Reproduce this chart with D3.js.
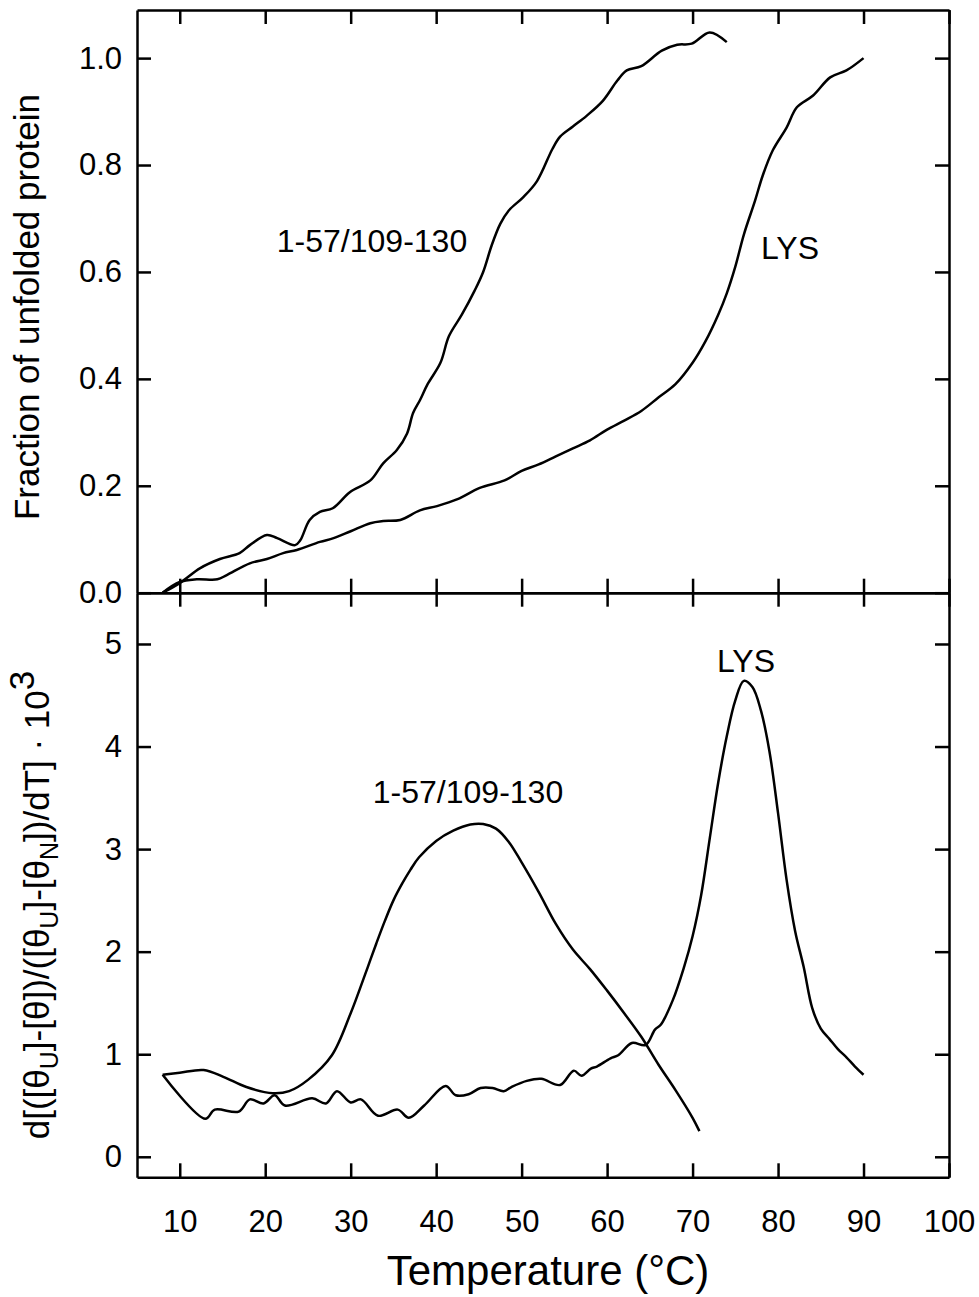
<!DOCTYPE html>
<html>
<head>
<meta charset="utf-8">
<script src="https://cdn.jsdelivr.net/npm/d3@7"></script>
<style>
  body { margin: 0; background: #fff; }
  text { font-family: "Liberation Sans", Arial, sans-serif; fill: #000; }
</style>
</head>
<body>
<svg id="chart" width="979" height="1297"></svg>
<script>
// x ticks shared by both panels
const tempTicks = [10, 20, 30, 40, 50, 60, 70, 80, 90, 100];
const fracTicks = [0, 0.2, 0.4, 0.6, 0.8, 1.0];
const derivTicks = [0, 1, 2, 3, 4, 5];

// top panel: fraction unfolded
const fragTempTop = [8, 10, 12.4, 14.7, 17, 18.2, 20.2, 21.4, 23.5, 24.1, 25.2, 26.4, 27.9, 29.9, 32.3, 33.8, 35.4, 36.6, 37.3, 38.1, 39, 40.5, 41.5, 43, 44.5, 45.5, 46.5, 47.5, 48.5, 50.2, 51.8, 53.6, 54.5, 56, 57.6, 59.5, 61.2, 62.3, 64, 66.4, 68.2, 69.9, 72, 74];
const fragFrac = [0, 0.018, 0.046, 0.063, 0.074, 0.089, 0.108, 0.102, 0.089, 0.098, 0.136, 0.151, 0.158, 0.188, 0.21, 0.242, 0.267, 0.298, 0.336, 0.36, 0.39, 0.43, 0.48, 0.52, 0.565, 0.6, 0.65, 0.69, 0.715, 0.74, 0.77, 0.83, 0.853, 0.872, 0.892, 0.92, 0.958, 0.977, 0.985, 1.014, 1.025, 1.027, 1.048, 1.03];

const lysTempTop = [8, 10, 12, 14.4, 15.5, 18.2, 20.2, 22.1, 23.7, 26.4, 28, 30, 32.3, 33.8, 35.8, 38.1, 40.1, 42.5, 45.1, 48, 50, 52, 54, 56, 58, 60, 62, 64, 66, 68, 70, 71.5, 73, 74, 75, 76, 77.3, 78.2, 79.4, 81, 82.2, 84.1, 86.1, 88, 90];
const lysFrac = [0, 0.02, 0.025, 0.025, 0.033, 0.055, 0.063, 0.074, 0.08, 0.095, 0.102, 0.115, 0.13, 0.134, 0.136, 0.154, 0.162, 0.175, 0.196, 0.21, 0.228, 0.24, 0.255, 0.27, 0.285, 0.305, 0.322, 0.34, 0.365, 0.39, 0.43, 0.47, 0.52, 0.56, 0.61, 0.67, 0.733, 0.78, 0.828, 0.87, 0.908, 0.93, 0.964, 0.977, 1.0];

// bottom panel: derivative x 10^3
const fragTempBot = [8, 10, 12.8, 15.1, 17.8, 20.9, 22.8, 25, 27.8, 30, 31, 32, 33, 34, 35, 36, 37, 38, 40, 42, 44, 45.5, 47, 48.5, 50, 52, 54, 56, 58, 60, 62, 64, 66, 68, 70, 70.8];
const fragDeriv = [0.8, 0.82, 0.846, 0.78, 0.68, 0.62, 0.64, 0.75, 0.99, 1.4, 1.62, 1.85, 2.08, 2.3, 2.5, 2.66, 2.8, 2.92, 3.08, 3.18, 3.24, 3.245, 3.2, 3.07, 2.87, 2.58, 2.27, 2.02, 1.83, 1.62, 1.4, 1.17, 0.9, 0.65, 0.38, 0.25];

const lysTempBot = [8, 13, 14.1, 16.9, 18.2, 19.8, 21.1, 22.3, 25.5, 27.1, 28.4, 30, 31.2, 33.2, 35.5, 36.8, 38.6, 41.1, 42.3, 43.8, 45.2, 46.6, 47.9, 48.8, 50.6, 52.3, 54.5, 56.1, 57, 58.1, 58.8, 60.4, 61.3, 62.9, 64.5, 65.6, 66.3, 67.7, 69, 70, 71, 72, 73, 74, 75, 76, 77, 78, 79, 80, 81, 82, 83, 84, 85, 86, 87, 88, 89, 90];
const lysDeriv = [0.8, 0.37, 0.46, 0.44, 0.56, 0.52, 0.6, 0.5, 0.57, 0.52, 0.64, 0.53, 0.56, 0.4, 0.46, 0.38, 0.5, 0.69, 0.6, 0.61, 0.67, 0.67, 0.64, 0.68, 0.74, 0.76, 0.7, 0.84, 0.79, 0.86, 0.88, 0.96, 0.99, 1.11, 1.09, 1.24, 1.29, 1.53, 1.85, 2.15, 2.55, 3.1, 3.65, 4.1, 4.45, 4.64, 4.58, 4.35, 3.95, 3.35, 2.7, 2.2, 1.85, 1.45, 1.25, 1.15, 1.05, 0.97, 0.88, 0.8];

const svg = d3.select("#chart");

const plotLeft = 137, plotRight = 949, plotTop = 10, plotMid = 592.7, plotBottom = 1177.3;
const tick = 14;

const x = d3.scaleLinear().domain([5, 100]).range([plotLeft, plotRight]);
const yTop = d3.scaleLinear().domain([0, 1.09]).range([plotMid, plotTop]);
const yBot = d3.scaleLinear().domain([-0.2, 5.5]).range([plotBottom, plotMid]);

function styleAxis(g) {
  g.selectAll(".domain").attr("stroke", "#000").attr("stroke-width", 2.5);
  g.selectAll(".tick line").attr("stroke", "#000").attr("stroke-width", 2.5);
  g.selectAll(".tick text")
    .attr("font-size", "31px")
    .attr("font-family", "'Liberation Sans', Arial, sans-serif");
}

// top panel axes
svg.append("g").attr("transform", `translate(0,${plotTop})`)
  .call(d3.axisTop(x).tickValues(tempTicks).tickSize(-tick).tickSizeOuter(0).tickFormat(""))
  .call(styleAxis);
svg.append("g").attr("transform", `translate(0,${plotMid})`)
  .call(d3.axisBottom(x).tickValues(tempTicks).tickSize(-tick).tickSizeOuter(0).tickFormat(""))
  .call(styleAxis);
svg.append("g").attr("transform", `translate(${plotLeft},0)`)
  .call(d3.axisLeft(yTop).tickValues(fracTicks).tickSize(-tick).tickSizeOuter(0)
    .tickPadding(15).tickFormat(d3.format(".1f")))
  .call(styleAxis);
svg.append("g").attr("transform", `translate(${plotRight},0)`)
  .call(d3.axisRight(yTop).tickValues(fracTicks).tickSize(-tick).tickSizeOuter(0).tickFormat(""))
  .call(styleAxis);

// bottom panel axes
svg.append("g").attr("transform", `translate(0,${plotMid})`)
  .call(d3.axisTop(x).tickValues(tempTicks).tickSize(-tick).tickSizeOuter(0).tickFormat(""))
  .call(styleAxis);
svg.append("g").attr("transform", `translate(0,${plotBottom})`)
  .call(d3.axisBottom(x).tickValues(tempTicks).tickSize(-tick).tickSizeOuter(0)
    .tickPadding(33).tickFormat(d3.format("d")))
  .call(styleAxis);
svg.append("g").attr("transform", `translate(${plotLeft},0)`)
  .call(d3.axisLeft(yBot).tickValues(derivTicks).tickSize(-tick).tickSizeOuter(0)
    .tickPadding(15).tickFormat(d3.format("d")))
  .call(styleAxis);
svg.append("g").attr("transform", `translate(${plotRight},0)`)
  .call(d3.axisRight(yBot).tickValues(derivTicks).tickSize(-tick).tickSizeOuter(0).tickFormat(""))
  .call(styleAxis);

// curves
function drawCurve(temps, vals, y) {
  const pts = temps.map((t, i) => [t, vals[i]]);
  svg.append("path")
    .datum(pts)
    .attr("fill", "none")
    .attr("stroke", "#000")
    .attr("stroke-width", 2.5)
    .attr("stroke-linejoin", "round")
    .attr("d", d3.line()
      .x(d => x(d[0]))
      .y(d => y(d[1]))
      .curve(d3.curveCatmullRom.alpha(0.5)));
}

drawCurve(fragTempTop, fragFrac, yTop);
drawCurve(lysTempTop, lysFrac, yTop);
drawCurve(fragTempBot, fragDeriv, yBot);
drawCurve(lysTempBot, lysDeriv, yBot);

// curve labels
svg.append("text").attr("x", 372).attr("y", 252).attr("text-anchor", "middle")
  .attr("font-size", "32px").text("1-57/109-130");
svg.append("text").attr("x", 790).attr("y", 259).attr("text-anchor", "middle")
  .attr("font-size", "32px").text("LYS");
svg.append("text").attr("x", 468).attr("y", 803).attr("text-anchor", "middle")
  .attr("font-size", "32px").text("1-57/109-130");
svg.append("text").attr("x", 746).attr("y", 672).attr("text-anchor", "middle")
  .attr("font-size", "32px").text("LYS");

// axis titles
svg.append("text")
  .attr("transform", "translate(39,307) rotate(-90)")
  .attr("text-anchor", "middle")
  .attr("font-size", "35px")
  .text("Fraction of unfolded protein");

const dLabel = svg.append("text")
  .attr("transform", "translate(49,905) rotate(-90)")
  .attr("text-anchor", "middle")
  .attr("font-size", "35px");
const parts = [
  ["d[([θ", 0], ["U", 1], ["]-[θ])/([θ", 0], ["U", 1], ["]-[θ", 0], ["N", 1],
  ["])/dT] · 10", 0], ["3", 2]
];
let shift = 0;
parts.forEach(([txt, kind]) => {
  const target = kind === 1 ? 9 : kind === 2 ? -15 : 0;
  dLabel.append("tspan")
    .attr("dy", target - shift)
    .attr("font-size", kind === 1 ? "25px" : "35px")
    .text(txt);
  shift = target;
});

svg.append("text")
  .attr("x", 548).attr("y", 1285)
  .attr("text-anchor", "middle")
  .attr("font-size", "42px")
  .text("Temperature (°C)");
</script>
</body>
</html>
